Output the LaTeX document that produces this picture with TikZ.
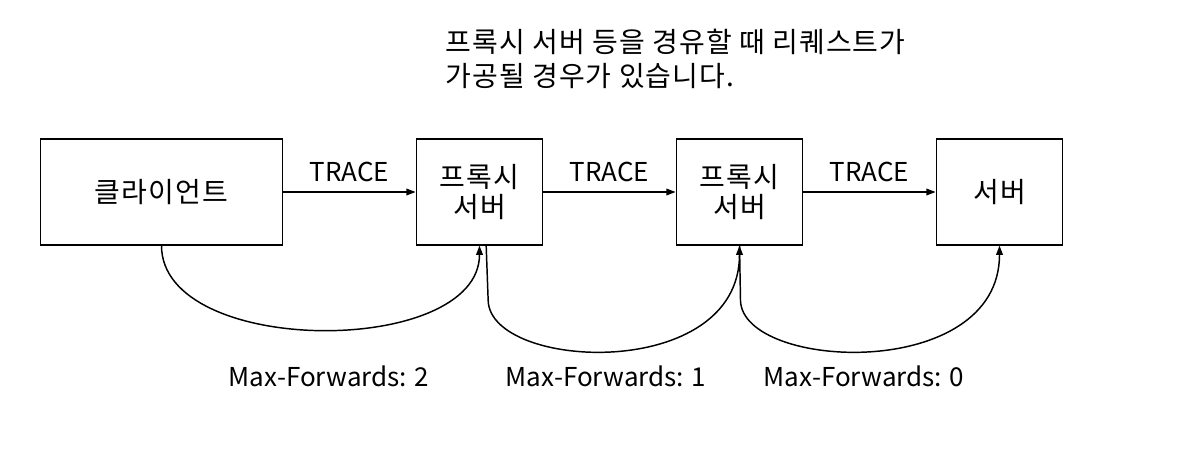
\documentclass[tikz,border=0pt]{standalone}
\usepackage{fontspec}
\setmainfont{Noto Sans CJK KR}
\newfontfamily\hangul[LetterSpace=4]{Noto Sans CJK KR}
\usetikzlibrary{arrows.meta}
\begin{document}
\begin{tikzpicture}[x=0.75pt,y=-0.75pt,font=\fontsize{19.5}{24}\selectfont,
  coreano/.style={font=\hangul\fontsize{21}{24}\selectfont},
  caja/.style={draw,line width=0.8pt,minimum height=79.5pt,align=center,inner sep=0pt,coreano},
  flecha/.style={line width=1.1pt,-{Triangle[length=7pt,width=5pt]}}]
\useasboundingbox (0,0) rectangle (1185,451);
% Nota
\node[anchor=north west,align=left,coreano,inner sep=0pt] (nota) at (445,29)
  {프록시 서버 등을 경유할 때 리퀘스트가\\[1pt]가공될 경우가 있습니다.};
% Cajas
\node[caja,minimum width=182pt] (cliente) at (161.5,192) {클라이언트};
\node[caja,minimum width=95pt] (proxy1) at (479.5,192) {프록시\\[-1.5pt]서버};
\node[caja,minimum width=95pt] (proxy2) at (739.5,192) {프록시\\[-1.5pt]서버};
\node[caja,minimum width=95pt] (servidor) at (999.5,192) {서버};
% TRACE
\draw[flecha] (cliente) -- node[above=4pt] (t1) {TRACE} (proxy1);
\draw[flecha] (proxy1) -- node[above=4pt] (t2) {TRACE} (proxy2);
\draw[flecha] (proxy2) -- node[above=4pt] (t3) {TRACE} (servidor);
% Curvas
\draw[flecha] (cliente.south) .. controls +(0,112) and +(0,112) .. (proxy1.south);
\draw[flecha] ([xshift=5pt]proxy1.south) -- ++(2,55)
  .. controls +(2,70) and +(0,137) .. (proxy2.south);
\draw[flecha] (proxy2.south) -- ++(1,55)
  .. controls +(2,70) and +(0,137) .. (servidor.south);
% Max-Forwards
\node (m2) at (329,376) {Max-Forwards: 2};
\node (m1) at (606,376) {Max-Forwards: 1};
\node (m0) at (864,376) {Max-Forwards: 0};
\end{tikzpicture}
\end{document}
